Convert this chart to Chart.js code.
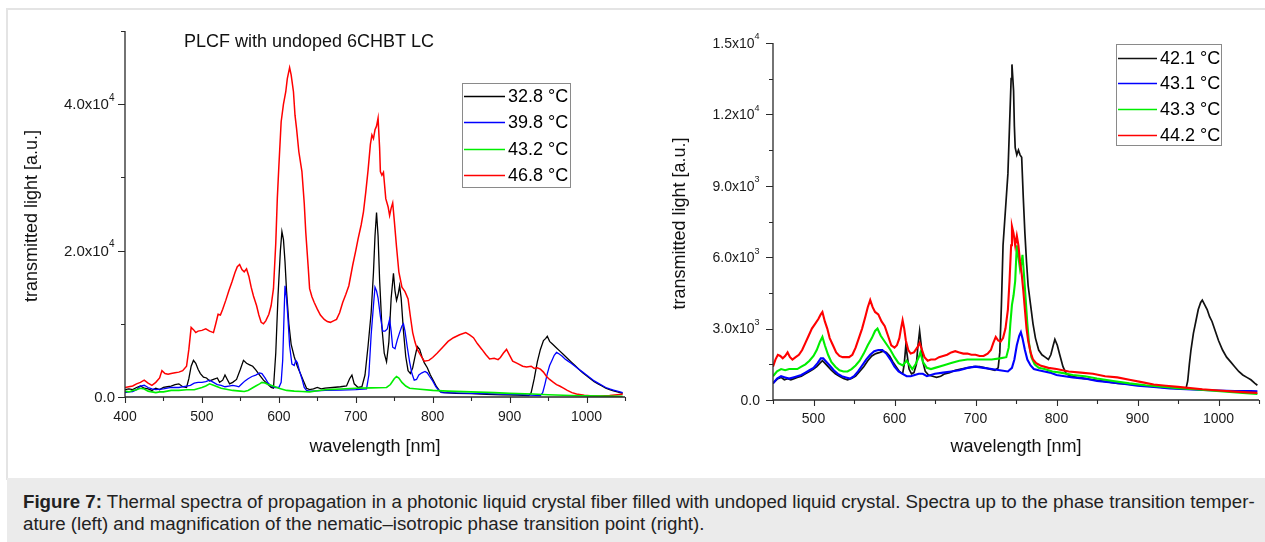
<!DOCTYPE html>
<html>
<head>
<meta charset="utf-8">
<script src="https://cdn.jsdelivr.net/npm/chart.js@4.4.1/dist/chart.umd.min.js"></script>
<style>
  html, body { margin: 0; padding: 0; background: #fff; }
  body { width: 1265px; height: 542px; position: relative; overflow: hidden;
         font-family: "Liberation Sans", Arial, sans-serif; }
  #frame { position: absolute; left: 6px; top: 8px; width: 1265px; height: 470px;
           border-top: 2px solid #e4e4e4; border-left: 2px solid #e4e4e4; }
  #leftChart { position: absolute; left: 0; top: 0; }
  #rightChart { position: absolute; left: 640px; top: 0; }
  #caption { position: absolute; left: 7px; top: 478px; width: 1258px; height: 64px;
             background: #ebebeb; color: #222; font-size: 18.7px; line-height: 22px;
             box-sizing: border-box; padding: 13px 0 0 16px; white-space: nowrap; }
  #caption b { font-weight: bold; }
</style>
</head>
<body>
<div id="frame"></div>
<canvas id="leftChart" width="640" height="478"></canvas>
<canvas id="rightChart" width="625" height="478"></canvas>
<div id="caption"><b>Figure 7:</b> Thermal spectra of propagation in a photonic liquid crystal fiber filled with undoped liquid crystal. Spectra up to the phase transition temper-<br>ature (left) and magnification of the nematic–isotropic phase transition point (right).</div>

<script>
// ---- Left panel: spectra up to the phase transition [wavelength nm, intensity a.u.] ----
const leftTitle = 'PLCF with undoped 6CHBT LC';
const leftLabels = ['32.8 °C', '39.8 °C', '43.2 °C', '46.8 °C'];

const left328 = [[400,1000],[405,1100],[410,1000],[415,1300],[420,1500],[425,1200],[430,1100],[435,900],[440,1200],[445,1000],[450,1300],[455,1400],[460,1500],[465,1700],[470,1800],[475,1400],[480,1300],[483,2500],[486,4200],[489,5000],[492,4600],[495,3800],[498,3200],[502,2700],[506,2600],[510,2200],[515,2400],[520,2600],[523,2000],[527,2300],[530,3000],[533,2400],[536,1800],[540,2000],[545,2400],[550,3800],[554,5000],[558,4600],[562,4400],[566,4200],[570,3700],[575,3000],[580,2300],[585,1800],[590,1300],[593,1200],[596,6000],[599,14000],[602,20000],[604,22600],[606,21500],[608,18500],[610,14500],[613,10000],[616,7200],[620,5500],[624,4200],[628,3200],[632,2200],[636,1200],[640,1000],[645,1100],[650,1300],[655,1100],[660,1200],[670,1300],[680,1400],[688,1500],[692,2500],[695,3000],[698,1800],[703,1300],[708,1400],[712,3000],[716,7000],[720,11500],[723,17000],[725,22000],[727,25200],[729,22000],[731,16000],[734,9500],[737,6000],[740,4800],[743,7500],[746,13500],[749,16900],[751,14500],[753,13200],[755,14000],[757,15200],[759,13500],[762,9000],[765,5500],[768,3600],[771,3200],[774,4000],[777,5500],[780,6900],[783,6500],[786,5500],[789,4700],[793,4000],[797,3000],[801,2200],[805,1400],[810,700],[815,600],[830,500],[850,450],[870,350],[890,300],[910,250],[925,200],[928,600],[932,2500],[936,4800],[940,6500],[944,7700],[947,8000],[949,8300],[952,7600],[956,7200],[960,6800],[965,6300],[970,5800],[975,5300],[980,4800],[985,4300],[990,3800],[995,3300],[1000,2900],[1005,2500],[1010,2100],[1015,1800],[1020,1500],[1025,1200],[1030,1000],[1035,850],[1040,700],[1047,500]];

const left398 = [[400,600],[405,700],[410,750],[415,1000],[420,1500],[425,1600],[430,1300],[435,1100],[440,1000],[450,1100],[460,1300],[470,1300],[480,1500],[485,1600],[490,1900],[495,2000],[500,2000],[505,2100],[510,2300],[515,2000],[520,1700],[525,1600],[530,1400],[535,1500],[540,1600],[545,1500],[548,1400],[552,1800],[556,2200],[560,2500],[565,2800],[570,3000],[575,3300],[578,3200],[582,2600],[586,1900],[590,1500],[595,1300],[600,1300],[603,2000],[605,5000],[607,12000],[608,15200],[610,13500],[612,10500],[614,7000],[617,4500],[620,4300],[622,5000],[624,4700],[627,3500],[630,2500],[633,1300],[636,900],[640,800],[650,850],[660,900],[680,950],[700,1000],[714,1100],[717,3000],[720,8500],[723,12500],[725,15000],[727,14500],[729,13500],[732,11000],[735,9000],[738,9000],[741,9300],[744,10600],[746,9000],[748,6800],[751,6600],[754,7800],[757,8800],[760,9700],[762,10000],[764,9000],[767,6800],[770,4800],[773,3200],[776,2300],[779,2400],[782,3000],[786,3300],[790,3500],[793,3300],[796,2800],[800,2200],[804,1400],[808,900],[812,600],[830,550],[850,500],[870,450],[900,350],[920,280],[940,200],[943,600],[946,1800],[949,3200],[952,4300],[955,5000],[958,5700],[961,6100],[964,5900],[968,5600],[972,5200],[976,4900],[980,4600],[985,4200],[990,3800],[995,3400],[1000,3000],[1005,2600],[1010,2200],[1015,1900],[1020,1600],[1025,1300],[1030,1100],[1035,950],[1040,800],[1047,600]];

const left432 = [[400,800],[405,700],[410,900],[415,1000],[420,1200],[425,1100],[430,800],[435,700],[440,600],[445,700],[450,700],[460,900],[470,900],[480,1000],[490,1000],[500,1300],[505,1500],[510,1800],[515,1600],[520,1400],[525,1200],[530,1100],[540,900],[550,800],[555,750],[560,900],[565,1200],[570,1500],[575,1800],[578,2000],[582,1900],[586,1700],[590,1600],[595,1400],[600,1200],[610,900],[620,800],[630,750],[640,700],[650,850],[660,1000],[680,1100],[700,1200],[720,1250],[740,1300],[745,1700],[750,2500],[753,2800],[756,2600],[760,2000],[765,1500],[770,1200],[780,1100],[800,900],[820,800],[850,700],[880,600],[900,500],[930,400],[950,300],[980,200],[1000,150],[1020,120],[1047,100]];

const left468 = [[400,1300],[405,1400],[410,1500],[415,1800],[420,2000],[425,2300],[430,1900],[435,1600],[440,2000],[445,2600],[448,3600],[452,3200],[456,3100],[460,3200],[465,3300],[470,3400],[475,3600],[480,4200],[483,6500],[486,9500],[489,9200],[492,8800],[495,9000],[500,9100],[505,9300],[510,9000],[515,8800],[518,10000],[521,11300],[524,11200],[527,12000],[531,13200],[535,14500],[539,15700],[543,17000],[546,17800],[549,18100],[552,17400],[555,17100],[558,17500],[561,16500],[564,15000],[567,13800],[571,12500],[574,11200],[577,10200],[580,10000],[583,10400],[587,11300],[590,12500],[593,14800],[596,21000],[598,27100],[600,31500],[603,37600],[606,40000],[609,41700],[611,43500],[614,45000],[616,44000],[619,41700],[621,38500],[623,36700],[626,33500],[630,30800],[633,26500],[635,22500],[638,18000],[640,14800],[643,13700],[646,12900],[650,12000],[654,11200],[659,10600],[663,10300],[667,10200],[671,10400],[675,10600],[679,11500],[683,12900],[687,14000],[691,15200],[696,18000],[700,20000],[703,21600],[707,23500],[710,25300],[713,28000],[716,31000],[719,34500],[721,35800],[723,35300],[725,36500],[727,37000],[729,38100],[731,34000],[732,30800],[734,30300],[736,30700],[739,27100],[742,26000],[744,24800],[746,25800],[748,26500],[750,24200],[753,20500],[756,17100],[760,15000],[764,14400],[768,13400],[771,11000],[774,8800],[777,7500],[780,6500],[785,5600],[789,4900],[795,5000],[800,5400],[806,6000],[813,6800],[820,7600],[827,8100],[835,8500],[843,8800],[848,8500],[853,8100],[858,7300],[864,6500],[869,5800],[874,5200],[880,5300],[885,5100],[888,5400],[892,6000],[896,6500],[899,5900],[904,4900],[910,4600],[917,4200],[922,4100],[928,4200],[932,3900],[936,4000],[940,3800],[944,3400],[948,2800],[952,2400],[957,2000],[961,1700],[965,1500],[970,1200],[975,900],[981,600],[987,400],[997,230],[1005,180],[1018,140],[1030,200],[1040,300],[1047,370]];

// ---- Right panel: around the nematic–isotropic transition ----
const rightLabels = ['42.1 °C', '43.1 °C', '43.3 °C', '44.2 °C'];

const right421 = [[450,700],[453,800],[456,900],[460,950],[464,850],[468,900],[472,850],[476,900],[480,950],[485,1000],[490,1100],[495,1200],[500,1300],[504,1400],[508,1550],[511,1650],[514,1550],[518,1400],[522,1250],[527,1100],[532,1000],[537,900],[542,850],[547,900],[552,1000],[557,1200],[562,1400],[567,1650],[572,1850],[577,1950],[582,2000],[586,2050],[590,2000],[594,1850],[598,1600],[602,1400],[606,1200],[610,1100],[612,1500],[614,2300],[616,1800],[618,1300],[621,1100],[624,1150],[627,1500],[629,2300],[631,2900],[633,2300],[635,1600],[638,1200],[642,1050],[647,1000],[652,950],[657,1000],[662,1100],[668,1150],[675,1250],[682,1300],[690,1350],[698,1400],[705,1400],[712,1350],[718,1300],[724,1250],[728,1350],[730,2000],[732,4000],[734,6500],[736,7500],[738,8500],[740,9500],[742,11500],[744,13500],[745,14100],[747,13000],[748,11500],[749,10600],[751,10300],[753,10500],[755,10300],[757,10200],[759,8500],[761,7000],[763,5800],[765,4800],[768,4000],[771,3200],[774,2600],[778,2100],[782,1900],[786,1800],[790,1700],[793,1900],[796,2300],[798,2550],[801,2300],[804,1900],[808,1400],[812,1100],[818,1000],[825,950],[835,900],[845,850],[855,800],[865,750],[875,700],[885,680],[895,650],[905,600],[915,580],[925,550],[935,520],[945,500],[955,480],[960,500],[962,800],[964,1500],[966,2100],[969,2800],[972,3300],[975,3800],[978,4100],[980,4200],[983,4000],[986,3800],[989,3500],[992,3300],[996,2900],[1000,2500],[1005,2100],[1010,1800],[1015,1600],[1020,1400],[1025,1200],[1030,1050],[1035,950],[1040,850],[1045,700],[1048,620]];

const right431 = [[450,700],[455,900],[460,1000],[465,950],[470,900],[475,950],[480,1000],[485,1050],[490,1150],[495,1250],[500,1350],[505,1550],[509,1750],[512,1750],[516,1600],[520,1450],[525,1250],[530,1100],[535,1000],[540,950],[545,900],[550,1000],[555,1200],[560,1450],[565,1700],[570,1900],[575,2050],[580,2100],[585,2100],[590,1950],[595,1700],[600,1400],[605,1200],[610,1100],[615,1000],[620,1000],[625,1050],[630,1100],[635,1100],[640,1000],[645,1050],[650,1100],[660,1150],[670,1200],[680,1250],[690,1350],[700,1400],[710,1350],[720,1300],[730,1250],[740,1200],[745,1350],[748,1700],[751,2300],[754,2700],[756,2850],[758,2600],[761,2100],[764,1700],[768,1450],[772,1300],[778,1250],[785,1200],[792,1150],[800,1050],[810,1000],[820,950],[835,900],[850,800],[865,750],[880,700],[900,600],[920,550],[940,480],[960,450],[980,420],[1000,400],[1020,380],[1040,380],[1048,370]];

const right433 = [[450,1000],[455,1200],[460,1300],[465,1250],[470,1300],[475,1300],[480,1300],[485,1400],[490,1500],[495,1650],[500,1850],[504,2100],[508,2450],[511,2650],[514,2300],[518,1900],[522,1600],[527,1400],[532,1250],[537,1200],[542,1200],[547,1300],[552,1450],[557,1650],[562,1950],[567,2300],[572,2600],[576,2900],[579,3000],[583,2700],[587,2500],[591,2300],[595,2100],[600,1800],[605,1550],[610,1450],[615,1650],[618,1500],[622,1300],[626,1500],[630,1800],[632,2000],[635,1600],[640,1350],[645,1300],[650,1350],[660,1450],[670,1550],[680,1650],[690,1700],[700,1700],[710,1700],[720,1700],[730,1750],[738,1800],[741,2200],[743,3200],[745,4000],[747,4400],[749,5000],[751,6500],[753,6000],[755,5500],[757,5800],[758,6100],[760,5200],[762,4200],[764,3200],[766,2400],[769,1800],[773,1500],[778,1350],[785,1300],[795,1200],[805,1150],[820,1050],[835,1000],[850,900],[870,800],[890,700],[910,620],[930,560],[950,500],[970,450],[990,400],[1010,350],[1030,300],[1048,250]];

const right442 = [[450,1400],[453,1700],[456,1900],[459,1850],[462,1750],[465,1850],[468,2000],[471,1800],[474,1700],[478,1800],[482,1900],[486,2100],[490,2400],[494,2700],[498,3000],[502,3200],[506,3400],[509,3600],[511,3700],[514,3300],[517,3000],[520,2600],[524,2300],[528,2000],[532,1850],[536,1800],[540,1800],[544,1800],[548,1900],[552,2200],[556,2600],[560,3000],[564,3500],[567,3900],[570,4200],[573,3900],[576,3700],[580,3600],[584,3300],[588,3100],[592,2700],[596,2300],[600,2200],[603,2300],[606,2600],[608,3000],[610,3350],[612,3000],[614,2500],[617,2100],[620,1950],[624,2000],[628,2200],[631,2400],[634,2100],[637,1800],[641,1650],[645,1700],[650,1700],[655,1800],[660,1850],[665,1900],[670,2000],[675,2050],[680,2000],[685,1950],[690,1950],[695,1900],[700,1900],[705,1850],[710,1850],[715,1950],[719,2100],[722,2400],[725,2650],[728,2500],[731,2450],[734,2600],[737,3000],[740,3800],[742,5000],[744,6500],[745,7300],[747,7000],[749,6500],[751,6900],[753,6500],[755,5800],[757,5300],[759,4600],[761,3800],[763,3000],[765,2500],[768,2000],[771,1700],[775,1550],[780,1450],[790,1350],[800,1300],[815,1200],[830,1150],[845,1100],[860,1000],[875,950],[890,850],[905,750],[920,650],[935,600],[950,550],[965,500],[980,450],[1000,400],[1020,350],[1035,320],[1048,300]];

// Axis tick values and their printed labels (mantissa, exponent)
const leftXTicks = [400, 500, 600, 700, 800, 900, 1000];
const leftYTicks = [0, 20000, 40000];
const leftYTickText = [['0.0', ''], ['2.0x10', '4'], ['4.0x10', '4']];
const rightXTicks = [500, 600, 700, 800, 900, 1000];
const rightYTicks = [0, 3000, 6000, 9000, 12000, 15000];
const rightYTickText = [['0.0', ''], ['3.0x10', '3'], ['6.0x10', '3'], ['9.0x10', '3'], ['1.2x10', '4'], ['1.5x10', '4']];

const FONT = '"Liberation Sans", Arial, sans-serif';

// Draws the axes, tick marks, tick labels, axis titles, panel title and boxed legend
function decorPlugin(o) {
  return {
    id: 'decor',
    afterDraw(chart) {
      const ctx = chart.ctx, xs = chart.scales.x, ys = chart.scales.y, a = chart.chartArea;
      ctx.save();
      ctx.strokeStyle = '#2a2a2a';
      ctx.lineWidth = 1.3;
      ctx.beginPath();
      ctx.moveTo(a.left, a.top);
      ctx.lineTo(a.left, a.bottom);
      ctx.lineTo(a.right, a.bottom);
      ctx.stroke();

      // x tick marks (minor every half step)
      ctx.lineWidth = 1.1;
      ctx.beginPath();
      for (let v = o.xMin; v <= o.xMax + 1e-6; v += o.xMinor) {
        const px = Math.round(xs.getPixelForValue(v)) + 0.5;
        const len = (o.xTicks.includes(v)) ? 6 : 4;
        ctx.moveTo(px, a.bottom);
        ctx.lineTo(px, a.bottom + len);
      }
      // y tick marks
      for (let v = 0; v <= o.yMax + 1e-6; v += o.yMinor) {
        const py = Math.round(ys.getPixelForValue(v)) + 0.5;
        const len = (o.yTicks.includes(v)) ? 7 : 4;
        ctx.moveTo(a.left, py);
        ctx.lineTo(a.left - len, py);
      }
      ctx.stroke();

      // tick labels
      ctx.fillStyle = '#1a1a1a';
      ctx.textBaseline = 'middle';
      ctx.textAlign = 'center';
      ctx.font = '14px ' + FONT;
      o.xTicks.forEach(v => {
        ctx.fillText(String(v), xs.getPixelForValue(v), a.bottom + o.xLabelOffset);
      });
      o.yTicks.forEach((v, i) => {
        const [mant, exp] = o.yTickText[i];
        const py = ys.getPixelForValue(v);
        const right = a.left - o.yLabelGap;
        ctx.font = o.yExpSize + 'px ' + FONT;
        const ew = exp ? ctx.measureText(exp).width + 0.5 : 0;
        ctx.textAlign = 'left';
        if (exp) ctx.fillText(exp, right - ew, py - 6);
        ctx.font = o.yLabelSize + 'px ' + FONT;
        ctx.textAlign = 'right';
        ctx.fillText(mant, right - ew, py + 1);
      });

      // axis titles
      ctx.font = '18px ' + FONT;
      ctx.textAlign = 'center';
      ctx.fillStyle = '#111';
      ctx.fillText('wavelength [nm]', (a.left + a.right) / 2, o.xTitleY);
      ctx.save();
      ctx.translate(o.yTitleX, (a.top + a.bottom) / 2 + 2);
      ctx.rotate(-Math.PI / 2);
      ctx.fillText('transmitted light [a.u.]', 0, 0);
      ctx.restore();

      if (o.title) {
        ctx.textAlign = 'left';
        ctx.fillText(o.title, o.titleX, o.titleY);
      }

      // boxed legend
      const L = o.legend;
      ctx.strokeStyle = '#8a8a8a';
      ctx.lineWidth = 1;
      ctx.strokeRect(L.x + 0.5, L.y + 0.5, L.w, L.h);
      chart.data.datasets.forEach((ds, i) => {
        const yy = L.rowY[i];
        ctx.strokeStyle = ds.borderColor;
        ctx.lineWidth = 1.6;
        ctx.beginPath();
        ctx.moveTo(L.x + 2, yy + 0.5);
        ctx.lineTo(L.x + L.lineLen, yy + 0.5);
        ctx.stroke();
        ctx.fillStyle = '#000';
        ctx.textAlign = 'left';
        ctx.font = '18px ' + FONT;
        ctx.fillText(ds.label, L.x + L.lineLen + 3, yy + 1);
      });
      ctx.restore();
    }
  };
}

function makeChart(id, series, o) {
  const datasets = series.map(s => ({
    label: s.label,
    data: s.points.map(p => ({ x: p[0], y: p[1] })),
    borderColor: s.color,
    borderWidth: s.width,
    pointRadius: 0,
    tension: 0,
    fill: false,
    order: s.order
  }));
  return new Chart(document.getElementById(id), {
    type: 'line',
    data: { datasets },
    options: {
      responsive: false,
      animation: false,
      devicePixelRatio: 1,
      layout: { padding: o.padding },
      plugins: { legend: { display: false }, tooltip: { enabled: false } },
      scales: {
        x: { type: 'linear', min: o.xMin, max: o.xMax, display: false },
        y: { type: 'linear', min: 0, max: o.yMax, display: false }
      }
    },
    plugins: [decorPlugin(o)]
  });
}

makeChart('leftChart', [
  { label: leftLabels[0], points: left328, color: '#000000', width: 1.3, order: 3 },
  { label: leftLabels[1], points: left398, color: '#0000ff', width: 1.3, order: 2 },
  { label: leftLabels[2], points: left432, color: '#00ee00', width: 1.6, order: 0 },
  { label: leftLabels[3], points: left468, color: '#ff0000', width: 1.5, order: 1 }
], {
  padding: { left: 125, top: 31, right: 15, bottom: 81 },
  xMin: 400, xMax: 1050, xMinor: 50, xTicks: leftXTicks,
  yMax: 50000, yMinor: 10000, yTicks: leftYTicks, yTickText: leftYTickText,
  yLabelSize: 15, yExpSize: 10,
  xLabelOffset: 20, yLabelGap: 10, xTitleY: 447, yTitleX: 32,
  title: leftTitle, titleX: 184, titleY: 42,
  legend: { x: 462, y: 83, w: 108, h: 104, lineLen: 43, rowY: [96, 122, 149, 175] }
});

makeChart('rightChart', [
  { label: rightLabels[0], points: right421, color: '#111111', width: 1.7, order: 3 },
  { label: rightLabels[1], points: right431, color: '#0000ff', width: 2.1, order: 2 },
  { label: rightLabels[2], points: right433, color: '#00ee00', width: 2.1, order: 1 },
  { label: rightLabels[3], points: right442, color: '#ff0000', width: 2.1, order: 0 }
], {
  padding: { left: 133, top: 43, right: 6, bottom: 78 },
  xMin: 450, xMax: 1050, xMinor: 50, xTicks: rightXTicks,
  yMax: 15000, yMinor: 1500, yTicks: rightYTicks, yTickText: rightYTickText,
  yLabelSize: 14, yExpSize: 9,
  xLabelOffset: 19, yLabelGap: 13, xTitleY: 447, yTitleX: 40,
  title: null,
  legend: { x: 476, y: 44, w: 105, h: 101, lineLen: 41, rowY: [58, 83, 109, 135] }
});
</script>
</body>
</html>
